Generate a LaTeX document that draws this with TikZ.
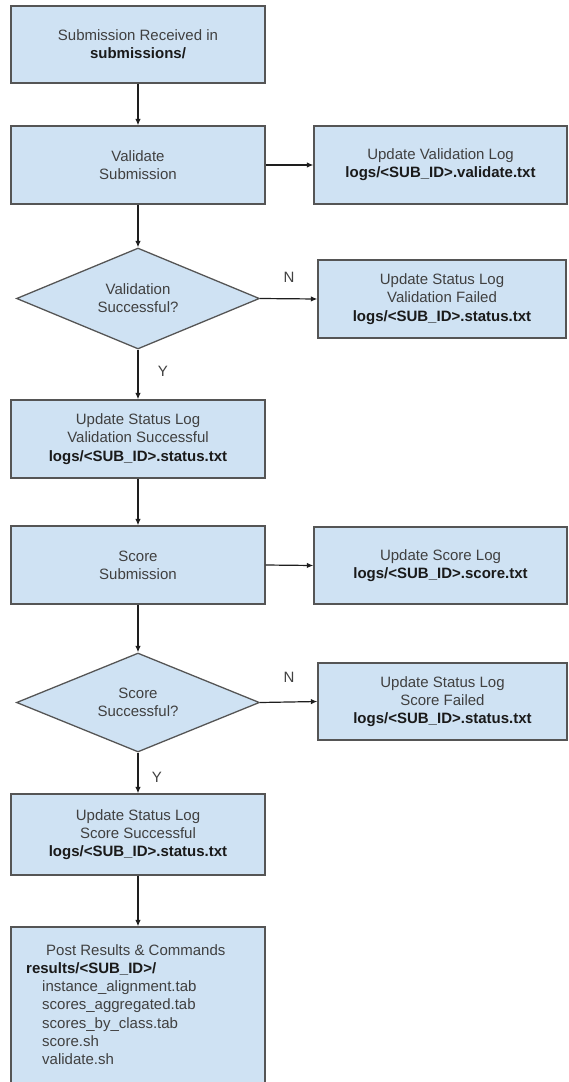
\documentclass[tikz,border=0pt]{standalone}
\usepackage{fontspec}
\setmainfont{Liberation Sans}
\usetikzlibrary{shapes.geometric,arrows.meta}
\definecolor{boxfill}{HTML}{CFE2F3}
\definecolor{boxline}{HTML}{555555}
\definecolor{txt}{HTML}{404040}
\definecolor{boldtxt}{HTML}{1A1A1A}
\definecolor{arrowc}{HTML}{1E1E1E}
\newcommand\fpath[1]{{\bfseries\color{boldtxt}#1}}
\tikzset{
  flowbox/.style={rectangle, draw=boxline, line width=1.3pt, fill=boxfill, inner sep=0pt,
    align=center, text=txt, font=\fontsize{15}{18.2}\selectfont},
  flowdec/.style={diamond, draw=boxline, line width=1.3pt, fill=boxfill, inner sep=0pt, aspect=2.4,
    align=center, text=txt, font=\fontsize{15}{18.2}\selectfont},
  flowarrow/.style={draw=arrowc, line width=1.2pt, -{Latex[length=6.5pt,width=5.5pt]}},
  lbl/.style={text=txt, font=\fontsize{15}{18}\selectfont, inner sep=0pt},
  postline/.style={text=txt, font=\fontsize{15}{18}\selectfont, inner sep=0pt, anchor=base west}
}
\begin{document}
\begin{tikzpicture}[x=1pt,y=-1pt]
\useasboundingbox (0,0) rectangle (568,1082);
% left column
\node[flowbox, minimum width=254pt, minimum height=77pt] (b1) at (138,44.5)
  {Submission Received in\\\fpath{submissions/}};
\node[flowbox, minimum width=254pt, minimum height=78pt] (b2) at (138,165)
  {Validate\\Submission};
\node[flowdec, minimum width=243pt, minimum height=101pt] (d1) at (138,298.5)
  {Validation\\Successful?};
\node[flowbox, minimum width=254pt, minimum height=78pt] (vs) at (138,439)
  {Update Status Log\\Validation Successful\\\fpath{logs/<SUB\_ID>.status.txt}};
\node[flowbox, minimum width=254pt, minimum height=78pt] (sc) at (138,565)
  {Score\\Submission};
\node[flowdec, minimum width=243pt, minimum height=99pt] (d2) at (138,702.5)
  {Score\\Successful?};
\node[flowbox, minimum width=254pt, minimum height=81pt] (ss) at (138,834.5)
  {Update Status Log\\Score Successful\\\fpath{logs/<SUB\_ID>.status.txt}};
\node[flowbox, minimum width=254pt, minimum height=175pt] (post) at (138,1014.5) {};
% right column
\node[flowbox, minimum width=253pt, minimum height=78pt] (vlog) at (440.5,165)
  {Update Validation Log\\\fpath{logs/<SUB\_ID>.validate.txt}};
\node[flowbox, minimum width=248pt, minimum height=78pt] (vf) at (442,299)
  {Update Status Log\\Validation Failed\\\fpath{logs/<SUB\_ID>.status.txt}};
\node[flowbox, minimum width=253pt, minimum height=77pt] (slog) at (440.5,565.5)
  {Update Score Log\\\fpath{logs/<SUB\_ID>.score.txt}};
\node[flowbox, minimum width=249pt, minimum height=77pt] (sf) at (442.5,701.5)
  {Update Status Log\\Score Failed\\\fpath{logs/<SUB\_ID>.status.txt}};
% post results text
\node[postline] (p1) at (46,955.5) {Post Results \& Commands};
\node[postline] (p2) at (26,973.5) {\fpath{results/<SUB\_ID>/}};
\node[postline] (p3) at (42,991.7) {instance\_alignment.tab};
\node[postline] (p4) at (42,1009.9) {scores\_aggregated.tab};
\node[postline] (p5) at (42,1028.1) {scores\_by\_class.tab};
\node[postline] (p6) at (42,1046.3) {score.sh};
\node[postline] (p7) at (42,1064.5) {validate.sh};
% labels
\node[lbl] (n1) at (289,277) {N};
\node[lbl] (y1) at (163,371) {Y};
\node[lbl] (n2) at (289,677) {N};
\node[lbl] (y2) at (157,777) {Y};
% connectors
\draw[flowarrow] (b1.south) -- (b2.north);
\draw[flowarrow] (b2.south) -- (d1.north);
\draw[flowarrow] (d1.south) -- (vs.north);
\draw[flowarrow] (vs.south) -- (sc.north);
\draw[flowarrow] (sc.south) -- (d2.north);
\draw[flowarrow] (d2.south) -- (ss.north);
\draw[flowarrow] (ss.south) -- (post.north);
\draw[flowarrow] (b2.east) -- (vlog.west);
\draw[flowarrow] (d1.east) -- (vf.west);
\draw[flowarrow] (sc.east) -- (slog.west);
\draw[flowarrow] (d2.east) -- (sf.west);
\end{tikzpicture}
\end{document}
